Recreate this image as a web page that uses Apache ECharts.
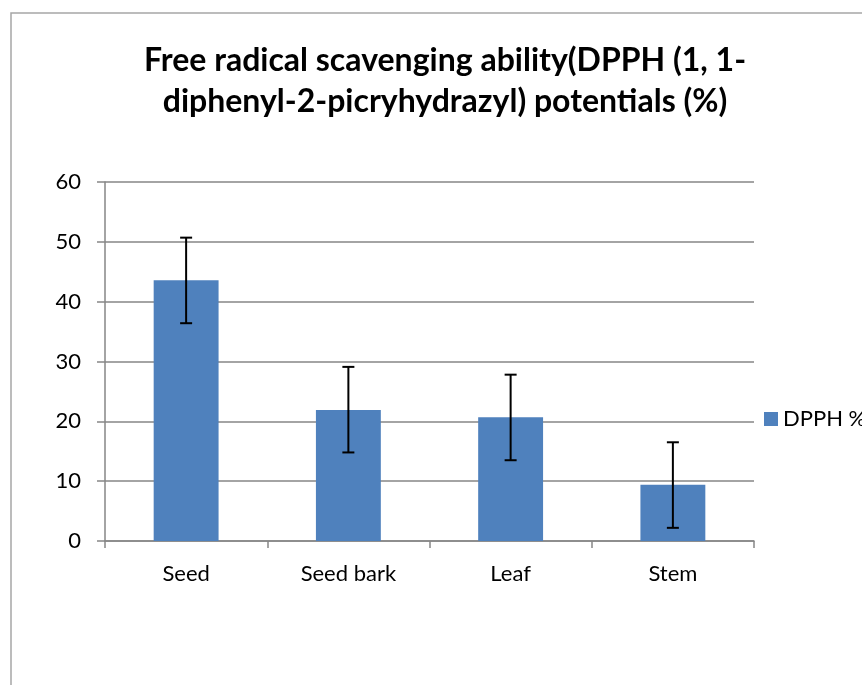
<!DOCTYPE html>
<html>
<head>
<meta charset="utf-8">
<script src="https://cdn.jsdelivr.net/npm/echarts@6/dist/echarts.min.js"></script>
<style>
  html, body { margin: 0; padding: 0; background: #fff; }
  #chart { width: 862px; height: 685px; }
</style>
</head>
<body>
<div id="chart"></div>
<script>
const categories = ["Seed", "Seed bark", "Leaf", "Stem"];
const dpph = [43.6, 21.9, 20.7, 9.4];
const errLow = [36.4, 14.8, 13.5, 2.2];
const errHigh = [50.7, 29.1, 27.8, 16.5];

const chart = echarts.init(document.getElementById("chart"));

const option = {
  animation: false,
  graphic: [
    {
      type: "rect",
      shape: { x: 11, y: 13, width: 900, height: 700 },
      style: { fill: "none", stroke: "#a6a6a6", lineWidth: 1.5 },
      z: -1
    }
  ],
  title: {
    text: "Free radical scavenging ability(DPPH (1, 1-\ndiphenyl-2-picryhydrazyl) potentials (%)",
    left: 440,
    top: 35,
    textAlign: "center",
    textStyle: {
      fontFamily: "Lato",
      fontWeight: "bold",
      fontSize: 32,
      lineHeight: 41,
      color: "#000"
    }
  },
  legend: {
    data: ["DPPH %"],
    left: 764,
    top: 408,
    padding: 0,
    itemWidth: 14,
    itemHeight: 14,
    itemGap: 6,
    icon: "rect",
    textStyle: { fontFamily: "Lato", fontSize: 22, color: "#000" }
  },
  grid: { left: 105, right: 108, top: 182, bottom: 144 },
  xAxis: {
    type: "category",
    data: categories,
    axisLine: { lineStyle: { color: "#868686", width: 1.5 } },
    axisTick: { show: true, length: 7, lineStyle: { color: "#868686", width: 1.5 } },
    axisLabel: { fontFamily: "Lato", fontSize: 22, color: "#000", margin: 22 }
  },
  yAxis: {
    type: "value",
    min: 0,
    max: 60,
    interval: 10,
    axisLine: { show: true, lineStyle: { color: "#868686", width: 1.5 } },
    axisTick: { show: true, length: 8, lineStyle: { color: "#868686", width: 1.5 } },
    axisLabel: { fontFamily: "Lato", fontSize: 22, color: "#000", margin: 24 },
    splitLine: { lineStyle: { color: "#868686", width: 1.5 } }
  },
  series: [
    {
      name: "DPPH %",
      type: "bar",
      data: dpph,
      barWidth: "40%",
      itemStyle: { color: "#4f81bd" }
    },
    {
      name: "error",
      type: "custom",
      data: categories.map((c, i) => [i, errLow[i], errHigh[i]]),
      z: 10,
      renderItem: function (params, api) {
        const lo = api.coord([api.value(0), api.value(1)]);
        const hi = api.coord([api.value(0), api.value(2)]);
        const half = 6;
        const style = { stroke: "#000", lineWidth: 2 };
        return {
          type: "group",
          children: [
            { type: "line", shape: { x1: lo[0], y1: lo[1], x2: hi[0], y2: hi[1] }, style: style },
            { type: "line", shape: { x1: lo[0] - half, y1: lo[1], x2: lo[0] + half, y2: lo[1] }, style: style },
            { type: "line", shape: { x1: hi[0] - half, y1: hi[1], x2: hi[0] + half, y2: hi[1] }, style: style }
          ]
        };
      }
    }
  ]
};

chart.setOption(option);
</script>
</body>
</html>
